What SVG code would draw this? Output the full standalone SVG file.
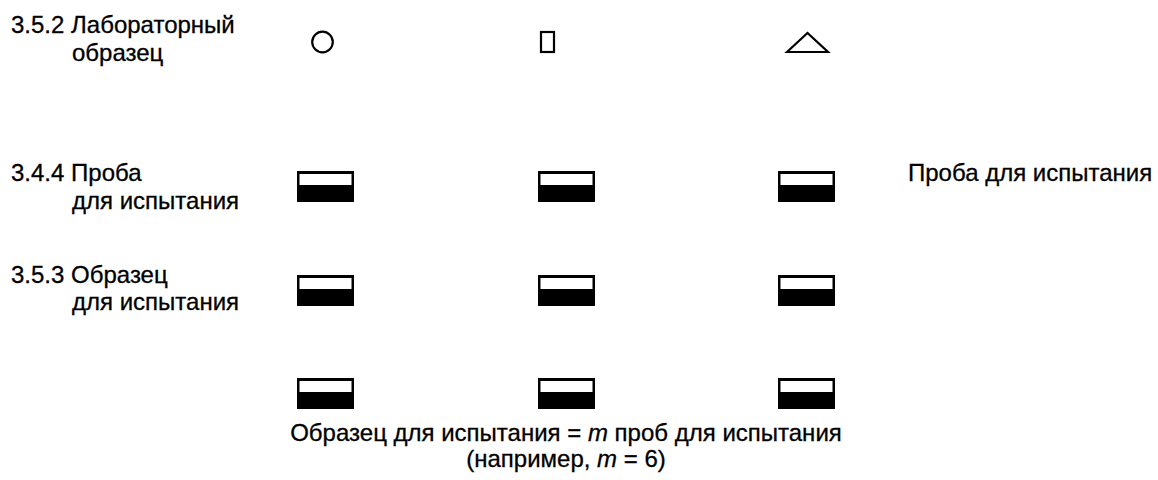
<svg xmlns="http://www.w3.org/2000/svg" width="1158" height="480" viewBox="0 0 1158 480">
<style>
text{font-family:"Liberation Sans",Arial,sans-serif;font-size:24px;fill:#000;stroke:#000;stroke-width:0.3}
.sym{fill:none;stroke:#000;stroke-width:2.2}
.outer{fill:#000}
.inner{fill:#fff}
</style>
<defs>
<g id="piece"><rect class="outer" x="0" y="0" width="57" height="31"/><rect class="inner" x="2.5" y="3" width="52" height="11"/></g>
</defs>
<rect width="1158" height="480" fill="#fff"/>
<g id="labels">
<text x="11" y="33">3.5.2 Лабораторный</text>
<text x="72" y="61">образец</text>
<text x="11" y="181">3.4.4 Проба</text>
<text x="72" y="209">для испытания</text>
<text x="11" y="283">3.5.3 Образец</text>
<text x="72" y="310">для испытания</text>
<text x="908" y="181">Проба для испытания</text>
<text x="566" y="441" text-anchor="middle">Образец для испытания = <tspan font-style="italic">m</tspan> проб для испытания</text>
<text x="566" y="467" text-anchor="middle">(например, <tspan font-style="italic">m</tspan> = 6)</text>
</g>
<g id="lab-samples">
<circle class="sym" cx="322.5" cy="42" r="10.3"/>
<rect class="sym" x="541" y="32" width="13" height="20"/>
<polygon class="sym" stroke-width="2.5" points="787,52 807.5,33 828,52"/>
</g>
<g id="pieces">
<use href="#piece" x="297" y="171"/><use href="#piece" x="538" y="171"/><use href="#piece" x="778" y="171"/>
<use href="#piece" x="297" y="275"/><use href="#piece" x="538" y="275"/><use href="#piece" x="778" y="275"/>
<use href="#piece" x="297" y="378"/><use href="#piece" x="538" y="378"/><use href="#piece" x="778" y="378"/>
</g>
<g id="connectors"></g>
</svg>
